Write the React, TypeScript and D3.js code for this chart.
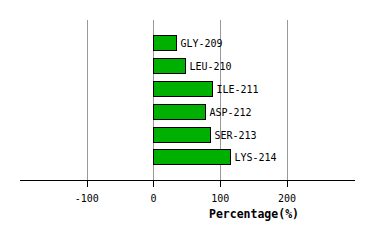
import React from "react";
import * as d3 from "d3";

const categories = ["GLY-209", "LEU-210", "ILE-211", "ASP-212", "SER-213", "LYS-214"];
const values = [34, 47, 88, 77, 85, 114];
const tickValues = [-100, 0, 100, 200];
const axisTitle = "Percentage(%)";

export default function App() {
  const W = 374, H = 240;
  const x = d3.scaleLinear().domain([-200, 302]).range([20, 355]);
  const y = d3.scaleBand<string>().domain(categories).range([20, 180]).paddingInner(0.34).paddingOuter(0.68);
  const font = "'DejaVu Sans Mono', monospace";
  return (
    <svg width={W} height={H} style={{ position: "absolute", left: 0, top: 0, background: "#fff" }}>
      {tickValues.map((t) => (
        <line key={"g" + t} x1={Math.round(x(t)) + 0.5} x2={Math.round(x(t)) + 0.5} y1={20} y2={180} stroke="#999" strokeWidth={1} />
      ))}
      {categories.map((c, i) => {
        const y0 = y(c)!;
        const x0 = Math.round(x(0)) + 0.5;
        const x1 = Math.round(x(values[i])) + 0.5;
        return (
          <g key={c}>
            <rect x={x0} y={Math.round(y0) + 0.5} width={x1 - x0} height={Math.round(y.bandwidth())} fill="#00b000" stroke="#000" strokeWidth={1} />
            <text x={x1 + 4} y={Math.round(y0) + y.bandwidth() / 2 + 4} fontFamily={font} fontSize={10} fill="#000">{c}</text>
          </g>
        );
      })}
      <line x1={20} x2={355} y1={180.5} y2={180.5} stroke="#000" strokeWidth={1} />
      {tickValues.map((t) => (
        <g key={"t" + t}>
          <line x1={Math.round(x(t)) + 0.5} x2={Math.round(x(t)) + 0.5} y1={180} y2={187} stroke="#000" strokeWidth={1} />
          <text x={x(t)} y={202} textAnchor="middle" fontFamily={font} fontSize={10} fill="#000">{t}</text>
        </g>
      ))}
      <text x={254} y={218} textAnchor="middle" fontFamily={font} fontSize={11.5} fontWeight="bold" fill="#000">{axisTitle}</text>
    </svg>
  );
}
